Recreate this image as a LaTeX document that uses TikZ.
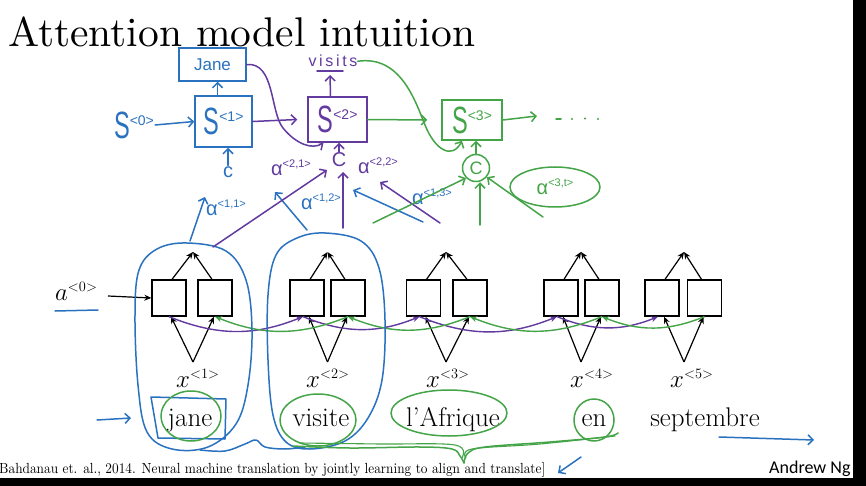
\documentclass[tikz,border=0pt]{standalone}
\usepackage{fontspec}
\usepackage{graphicx}
\newfontfamily\handfont{Liberation Sans}
\newfontfamily\ngfont{Carlito}
\usetikzlibrary{arrows.meta,calc,shapes.geometric}
\definecolor{hblue}{RGB}{42,114,192}
\definecolor{hpurple}{RGB}{98,58,160}
\definecolor{hgreen}{RGB}{68,164,72}
\newcommand\handS[1]{\scalebox{0.62}[1]{\fontsize{38}{38}\selectfont S}\raisebox{13pt}{\fontsize{14}{14}\selectfont #1}}
\newcommand\halpha[1]{{\fontsize{20}{20}\selectfont α\raisebox{8pt}{\fontsize{11}{11}\selectfont #1}}}
\newcommand\vsup[2]{$#1$\raisebox{9pt}{\fontsize{14}{14}\selectfont$\mathord{<}#2\mathord{>}$}}
\begin{document}
\begin{tikzpicture}[x=1pt,y=-1pt,
  encbox/.style={draw=black, line width=1.3pt, minimum width=34pt, minimum height=36pt, inner sep=0pt},
  blk/.style={draw=black, line width=1.2pt, -{Stealth[length=7pt,width=6pt]}},
  hb/.style={draw=hblue, line width=1.5pt, line cap=round, line join=round},
  hp/.style={draw=hpurple, line width=1.5pt, line cap=round, line join=round},
  hg/.style={draw=hgreen, line width=1.5pt, line cap=round, line join=round},
  harr/.style={-{Straight Barb[length=5pt,width=10pt]}},
  fwd/.style={draw=hpurple, line width=1.4pt, -{Stealth[length=7pt,width=6pt]}},
  bwd/.style={draw=hgreen, line width=1.4pt, -{Stealth[length=7pt,width=6pt]}},
  word/.style={font=\fontsize{27}{32}\selectfont, inner sep=0pt, anchor=base},
  xlab/.style={font=\fontsize{24}{28}\selectfont, inner sep=0pt, anchor=base west},
  dbox/.style={line width=1.5pt, inner sep=0pt},
  hlab/.style={font=\handfont, inner sep=1pt}
]
\useasboundingbox (0,0) rectangle (866,486);
\fill[white] (0,0) rectangle (866,486);
\fill[black] (853,0) rectangle (866,486);
\fill[black] (0,478) rectangle (866,486);

% title
\node[anchor=base west, inner sep=0pt] (title) at (8,47) {\resizebox{467pt}{!}{Attention model intuition}};

% ---------- encoder ----------
\foreach \n/\x in {L1/169,R1/215,L2/307,R2/348,L3/423.5,R3/470,L4/561,R4/602,L5/662,R5/704.5}
  \node[encbox] (\n) at (\x,298) {};

\foreach \k/\c/\lx in {1/193/176,2/327.5/306,3/446/426,4/581/570,5/684/670}{
  \coordinate (top\k) at (\c,252);
  \coordinate (bot\k) at (\c,362);
  \draw[blk] ([xshift=3pt]L\k.north) -- (top\k);
  \draw[blk] ([xshift=-3pt]R\k.north) -- (top\k);
  \draw[blk] (bot\k) -- ([xshift=2pt]L\k.south);
  \draw[blk] (bot\k) -- ([xshift=-1pt]R\k.south);
  \node[xlab] (x\k) at (\lx,387) {\vsup{x}{\k}};
}

\node[xlab] (a0) at (55,300) {\vsup{a}{0}};
\coordinate (a0s) at (108,296);
\draw[blk] (a0s) -- (L1.west);
\draw[hb] (55,311) -- (98,310);

% forward (purple) and backward (green) recurrences
\draw[fwd] (L1.south) to[bend right=22] ([xshift=-4pt]L2.south);
\draw[fwd] ([xshift=-4pt]L2.south) to[bend right=22] ([xshift=-4pt]L3.south);
\draw[fwd] ([xshift=-4pt]L3.south) to[bend right=22] ([xshift=-4pt]L4.south);
\draw[fwd] ([xshift=-4pt]L4.south) to[bend right=22] ([xshift=-4pt]L5.south);
\draw[bwd] (R5.south) to[bend left=22] (R4.south);
\draw[bwd] (R4.south) to[bend left=22] (R3.south);
\draw[bwd] (R3.south) to[bend left=22] (R2.south);
\draw[bwd] (R2.south) to[bend left=22] (R1.south);

% words
\node[word] (w1) at (190,426) {jane};
\node[word] (w2) at (321,426) {visite};
\node[word] (w3) at (453,426) {l'Afrique};
\node[word] (w4) at (594,426) {en};
\node[word] (w5) at (705,426) {septembre};

% citation and author
\node[anchor=base west, inner sep=0pt] (cite) at (-1,473) {\resizebox{546pt}{11pt}{Bahdanau et. al., 2014. Neural machine translation by jointly learning to align and translate]}};
\node[anchor=base west, inner sep=0pt, font=\ngfont\fontsize{18}{18}\selectfont] (ng) at (769,473) {Andrew Ng};

% ---------- hand drawn blue on encoder ----------
\draw[hb] plot[smooth cycle, tension=0.6] coordinates {(187,243) (226,251) (246,280) (252,330) (248,385) (236,424) (208,447) (172,449) (147,432) (138,385) (135,315) (139,270) (157,249)};
\draw[hb] plot[smooth cycle, tension=0.6] coordinates {(325,233) (361,241) (379,268) (385,320) (382,380) (368,418) (345,441) (310,449) (286,442) (273,415) (268,360) (268,295) (276,255) (297,238)};
\draw[hb] plot[smooth, tension=0.6] coordinates {(200,450) (225,451) (245,444) (256,440) (265,447) (285,449) (305,447)};
\draw[hb] (151,397) -- (226,399) -- (225,439) -- (158,438) -- cycle;
\coordinate (la1) at (97,420);
\coordinate (la2) at (131,418);
\draw[hb,harr] (la1) -- (la2);
\coordinate (ra1) at (719,437);
\coordinate (ra2) at (814,440);
\draw[hb,harr] (ra1) -- (ra2);
\coordinate (ca1) at (581,457);
\coordinate (ca2) at (558,473);
\draw[hb,harr] (ca1) -- (ca2);

% green circles and brace
\draw[hg] (191,416) ellipse [x radius=30pt, y radius=25pt];
\draw[hg] (318,420) ellipse [x radius=38pt, y radius=26pt];
\draw[hg] (449,413) ellipse [x radius=58pt, y radius=23pt];
\draw[hg] (594,420) ellipse [x radius=20pt, y radius=21pt];
\draw[hg] plot[smooth, tension=0.6] coordinates {(293,446) (350,448) (420,447) (452,449) (460,456) (464,463)};
\draw[hg] plot[smooth, tension=0.6] coordinates {(464,463) (468,453) (485,447) (550,442) (605,437) (618,433)};
\draw[hg, line width=1.1pt] plot[smooth, tension=0.6] coordinates {(300,443) (380,444) (455,445) (462,458)};
\draw[hg, line width=1.1pt] plot[smooth, tension=0.6] coordinates {(466,458) (472,449) (540,444) (615,436)};

% ---------- decoder ----------
\node[dbox, draw=hblue, minimum width=67pt, minimum height=33pt, hlab, text=hblue, font=\handfont\fontsize{17}{17}\selectfont] (jane) at (212.5,64.5) {Jane};
\node[dbox, draw=hblue, minimum width=57pt, minimum height=51pt, hlab, text=hblue] (s1) at (223.5,121.5) {\handS{<1>}};
\node[hlab, text=hblue] (s0) at (134,125) {\handS{<0>}};
\node[hlab, text=hblue, font=\handfont\fontsize{20}{20}\selectfont] (c1) at (228,172) {c};
\draw[hb,harr] (s0.east) -- (s1.west);
\draw[hb,harr] ([xshift=-6pt]s1.north) -- ([xshift=-6pt]s1.north |- jane.south);
\draw[hb,harr] (c1.north) -- (c1.north |- s1.south);

\node[dbox, draw=hpurple, minimum width=59pt, minimum height=45pt, hlab, text=hpurple] (s2) at (337.5,119.5) {\handS{<2>}};
\node[anchor=base, inner sep=0pt, text=hpurple, font=\handfont\fontsize{16}{16}\selectfont] (visits) at (333,67) {v\,i\,s\,i\,t\,s};
\draw[hp] (317,71) -- (343,71);
\coordinate (vtip) at (330,75);
\node[hlab, text=hpurple, font=\handfont\fontsize{20}{20}\selectfont] (c2) at (339,160) {C};
\draw[hp,harr] (s1.east) -- ([xshift=-10pt]s2.west);
\draw[hp,harr] ([xshift=-7pt]s2.north) -- (vtip);
\draw[hp,harr] (c2.north) -- (c2.north |- s2.south);
\draw[hp,harr] (jane.east) .. controls (275,62) and (270,112) .. (283,128) .. controls (296,144) and (312,150) .. ([xshift=-14pt]s2.south);

\node[dbox, draw=hgreen, minimum width=60pt, minimum height=40pt, hlab, text=hgreen] (s3) at (472,120) {\handS{<3>}};
\node[circle, draw=hgreen, line width=1.5pt, minimum size=27pt, inner sep=0pt, text=hgreen, font=\handfont\fontsize{18}{18}\selectfont] (c3) at (476,168) {C};
\node[ellipse, draw=hgreen, line width=1.5pt, minimum width=90pt, minimum height=40pt, inner sep=0pt, text=hgreen, font=\handfont] (a3t) at (555,187) {\halpha{<3,t>}};
\coordinate (s3out) at (537,116);
\draw[hg,harr] (s2.east) -- ([xshift=-14pt]s3.west);
\draw[hg,harr] (s3.east) -- (s3out);
\draw[hg,harr] (visits.east) .. controls (400,55) and (415,100) .. (425,125) .. controls (435,150) and (452,160) .. ([xshift=-10pt]s3.south);
\draw[hg,harr] (c3.north) -- (c3.north |- s3.south);
\draw[hg] (556,119) -- (561,119);
\fill[hgreen] (572,119) circle (1.1pt) (585,118.5) circle (1.1pt) (598,119) circle (1.1pt);

% attention weights
\node[hlab, text=hblue] (a11) at (226,208) {\halpha{<1,1>}};
\node[hlab, text=hpurple] (a21) at (291,168) {\halpha{<2,1>}};
\node[hlab, text=hblue] (a12) at (321,202) {\halpha{<1,2>}};
\node[hlab, text=hpurple] (a22) at (378,166) {\halpha{<2,2>}};
\node[hlab, text=hblue] (a13) at (432,197) {\halpha{<1,3>}};

\coordinate (b1s) at (190,241); \coordinate (b1e) at (205,197);
\coordinate (b2s) at (307,230); \coordinate (b2e) at (275,192);
\coordinate (b3s) at (423,222); \coordinate (b3e) at (353,190);
\coordinate (p1s) at (213,247); \coordinate (p1e) at (327,170);
\coordinate (p2s) at (343,228); \coordinate (p2e) at (343,172);
\coordinate (p3s) at (440,223); \coordinate (p3e) at (380,182);
\coordinate (g1s) at (373,223);
\coordinate (g2s) at (480,225);
\coordinate (g3s) at (543,217);
\draw[hb,harr] (b1s) -- (b1e);
\draw[hb,harr] (b2s) -- (b2e);
\draw[hb,harr] (b3s) -- (b3e);
\draw[hp,harr] (p1s) -- (p1e);
\draw[hp,harr] (p2s) -- (p2e);
\draw[hp,harr] (p3s) -- (p3e);
\draw[hg,harr] (g1s) -- (c3.225);
\draw[hg,harr] (g2s) -- ([xshift=4pt]c3.south);
\draw[hg,harr] (g3s) -- (c3.-40);
\end{tikzpicture}
\end{document}
